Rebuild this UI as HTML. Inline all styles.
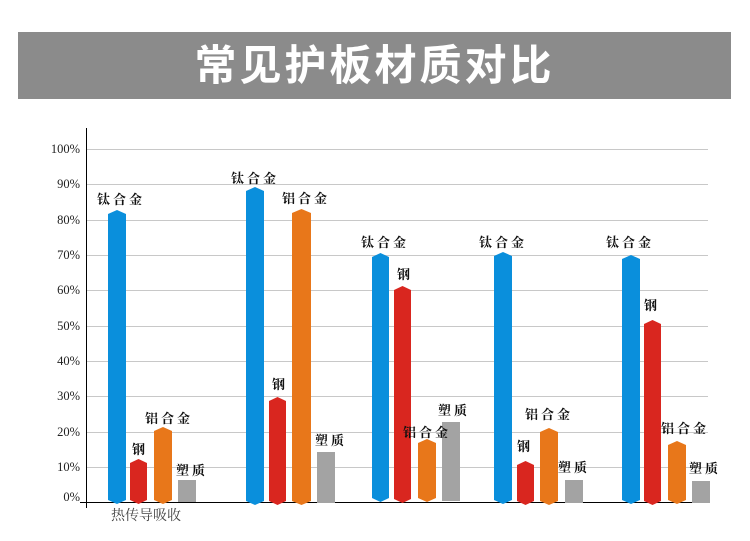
<!DOCTYPE html>
<html><head><meta charset="utf-8"><style>
body{margin:0;width:750px;height:541px;background:#fff;position:relative;overflow:hidden;font-family:"Liberation Serif","Noto Serif CJK SC",serif}
.a{position:absolute}
.t{position:absolute;left:18px;top:32px;width:713px;height:67px;background:#8b8b8b;color:#fff;font:bold 42px/67px "Liberation Sans","Noto Sans CJK SC",sans-serif;text-align:center;letter-spacing:3px}
.g{position:absolute;left:86px;width:622px;height:1px;background:#c8c8c8}
.yl{position:absolute;left:20px;width:60px;text-align:right;font-size:12.5px;line-height:14px;color:#222}
.b{position:absolute;clip-path:polygon(0 4px,50% 0,100% 4px,100% calc(100% - 4px),50% 100%,0 calc(100% - 4px))}
.bl{background:#0a8fdc}.rd{background:#d9261f}.or{background:#e8771a}.gr{background:#a3a3a3;clip-path:none}
.l{position:absolute;font:bold 13px/16px "Noto Serif CJK SC",serif;color:#111;white-space:nowrap;letter-spacing:3px}
</style></head><body>
<div class="t">常见护板材质对比</div>
<div class="g" style="top:149px"></div><div class="g" style="top:184px"></div><div class="g" style="top:220px"></div><div class="g" style="top:255px"></div><div class="g" style="top:290px"></div><div class="g" style="top:326px"></div><div class="g" style="top:361px"></div><div class="g" style="top:396px"></div><div class="g" style="top:432px"></div><div class="g" style="top:467px"></div>
<div class="yl" style="top:142px">100%</div><div class="yl" style="top:177px">90%</div><div class="yl" style="top:213px">80%</div><div class="yl" style="top:248px">70%</div><div class="yl" style="top:283px">60%</div><div class="yl" style="top:319px">50%</div><div class="yl" style="top:354px">40%</div><div class="yl" style="top:389px">30%</div><div class="yl" style="top:425px">20%</div><div class="yl" style="top:460px">10%</div><div class="yl" style="top:490px">0%</div>
<div class="a" style="left:86px;top:128px;width:1px;height:380px;background:#000"></div>
<div class="a" style="left:80px;top:502px;width:628px;height:1px;background:#000"></div>
<div class="a" style="left:111px;top:506px;font:14px/18px 'Noto Serif CJK SC',serif;color:#444">热传导吸收</div>

<div class="b bl" style="left:108px;top:210px;width:18px;height:294px"></div>
<div class="b rd" style="left:130px;top:459px;width:17px;height:45px"></div>
<div class="b or" style="left:154px;top:427px;width:18px;height:77px"></div>
<div class="b gr" style="left:178px;top:480px;width:18px;height:22px"></div>

<div class="b bl" style="left:246px;top:187px;width:18px;height:318px"></div>
<div class="b rd" style="left:269px;top:397px;width:17px;height:108px"></div>
<div class="b or" style="left:292px;top:209px;width:19px;height:296px"></div>
<div class="b gr" style="left:317px;top:452px;width:18px;height:51px"></div>

<div class="b bl" style="left:372px;top:253px;width:17px;height:249px"></div>
<div class="b rd" style="left:394px;top:286px;width:17px;height:217px"></div>
<div class="b or" style="left:418px;top:439px;width:18px;height:63px"></div>
<div class="b gr" style="left:442px;top:422px;width:18px;height:79px"></div>

<div class="b bl" style="left:494px;top:252px;width:18px;height:252px"></div>
<div class="b rd" style="left:517px;top:461px;width:17px;height:44px"></div>
<div class="b or" style="left:540px;top:428px;width:18px;height:77px"></div>
<div class="b gr" style="left:565px;top:480px;width:18px;height:23px"></div>

<div class="b bl" style="left:622px;top:255px;width:18px;height:249px"></div>
<div class="b rd" style="left:644px;top:320px;width:17px;height:185px"></div>
<div class="b or" style="left:668px;top:441px;width:18px;height:63px"></div>
<div class="b gr" style="left:692px;top:481px;width:18px;height:22px"></div>

<div class="l" style="left:97px;top:191px">钛合金</div><div class="l" style="left:132px;top:441px">钢</div><div class="l" style="left:145px;top:410px">铝合金</div><div class="l" style="left:176px;top:462px">塑质</div>
<div class="l" style="left:231px;top:170px">钛合金</div><div class="l" style="left:282px;top:190px">铝合金</div><div class="l" style="left:272px;top:376px">钢</div><div class="l" style="left:315px;top:432px">塑质</div>
<div class="l" style="left:361px;top:234px">钛合金</div><div class="l" style="left:397px;top:266px">钢</div><div class="l" style="left:403px;top:424px">铝合金</div><div class="l" style="left:438px;top:402px">塑质</div>
<div class="l" style="left:479px;top:234px">钛合金</div><div class="l" style="left:517px;top:438px">钢</div><div class="l" style="left:525px;top:406px">铝合金</div><div class="l" style="left:558px;top:459px">塑质</div>
<div class="l" style="left:606px;top:234px">钛合金</div><div class="l" style="left:644px;top:297px">钢</div><div class="l" style="left:661px;top:420px">铝合金</div><div class="l" style="left:689px;top:460px">塑质</div>
</body></html>
